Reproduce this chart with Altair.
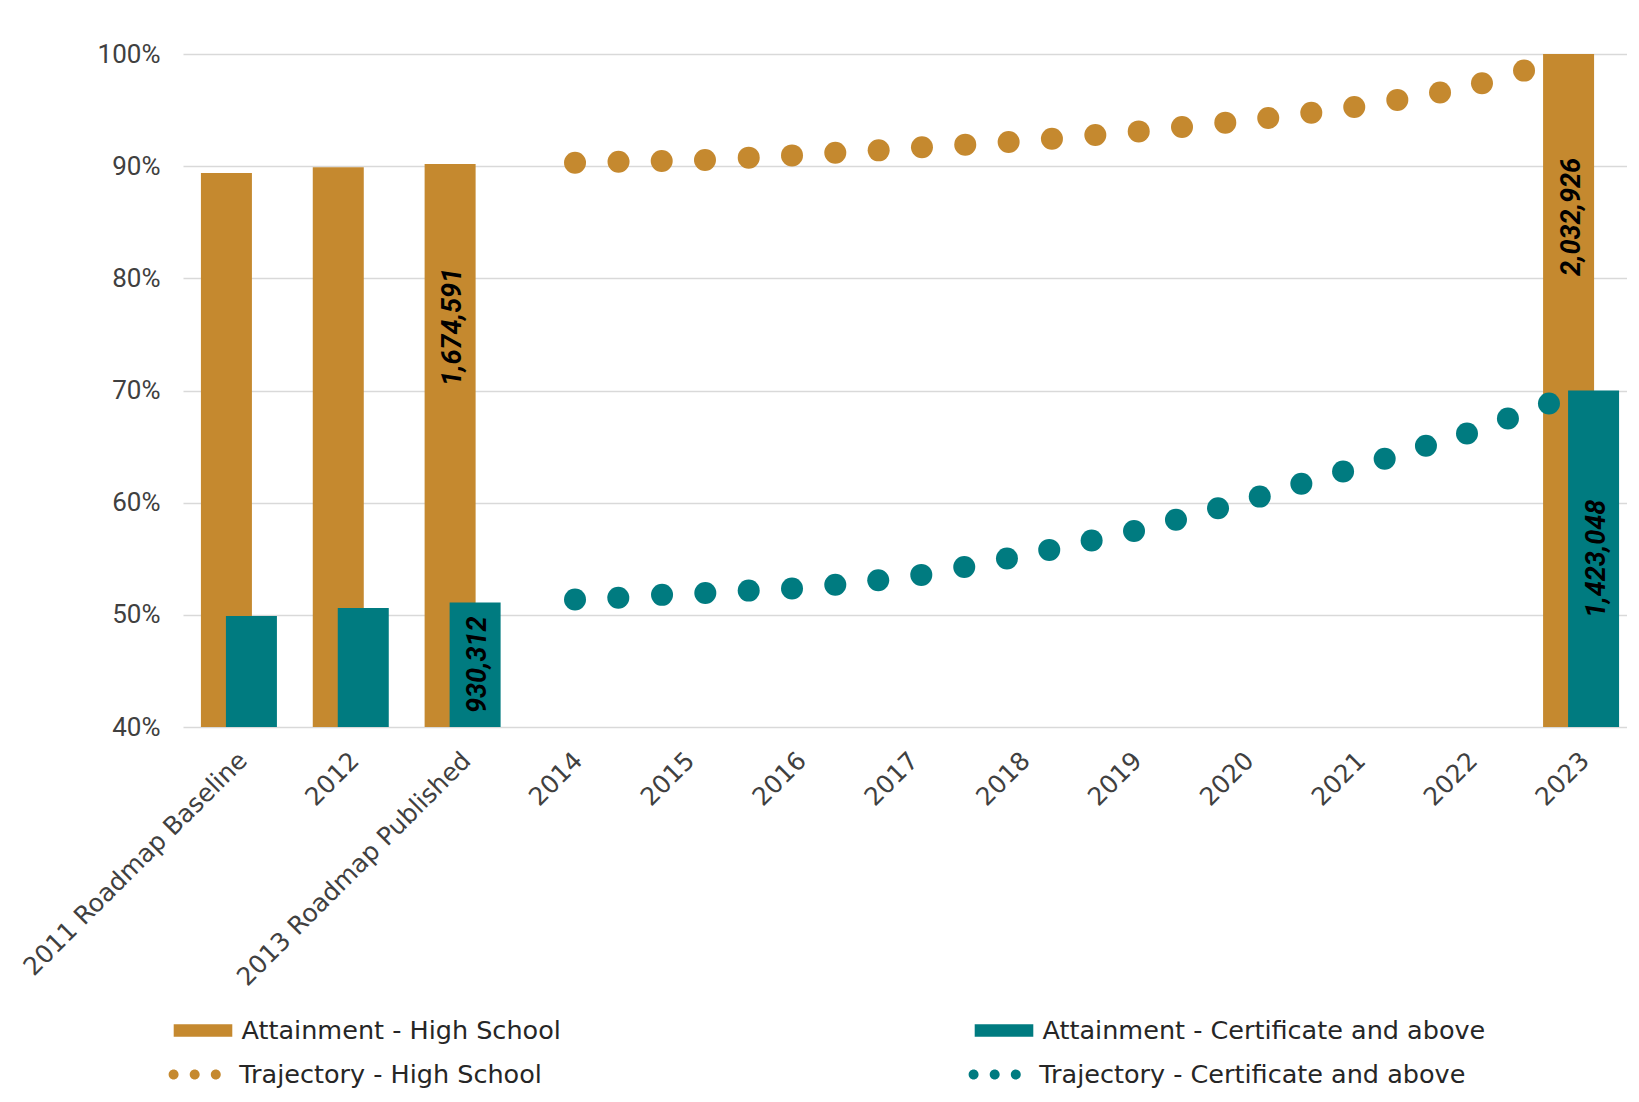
import altair as alt
import pandas as pd

# ---------------- data ----------------
categories = ["2011 Roadmap Baseline", "2012", "2013 Roadmap Published", "2014", "2015",
              "2016", "2017", "2018", "2019", "2020", "2021", "2022", "2023"]

bar_categories = ["2011 Roadmap Baseline", "2012", "2013 Roadmap Published", "2023"]
hs_attainment = [0.894, 0.899, 0.902, 1.000]
cert_attainment = [0.499, 0.506, 0.511, 0.700]
hs_counts = [None, None, 1674591, 2032926]
cert_counts = [None, None, 930312, 1423048]

# trajectory dots: position in category units (0 = first category centre), share
traj_hs_pos = [3.005, 3.394, 3.780, 4.167, 4.558, 4.945, 5.332, 5.720, 6.107, 6.494, 6.882,
               7.269, 7.657, 8.045, 8.432, 8.819, 9.203, 9.588, 9.972, 10.357, 10.739,
               11.114, 11.490]
traj_hs_val = [0.9031, 0.9040, 0.9046, 0.9055, 0.9076, 0.9096, 0.9120, 0.9141, 0.9168,
               0.9192, 0.9216, 0.9245, 0.9278, 0.9310, 0.9350, 0.9388, 0.9430, 0.9477,
               0.9528, 0.9591, 0.9656, 0.9739, 0.9852]
traj_cert_pos = [3.005, 3.392, 3.783, 4.170, 4.558, 4.945, 5.332, 5.716, 6.101, 6.485,
                 6.867, 7.245, 7.624, 8.003, 8.378, 8.754, 9.127, 9.499, 9.872, 10.244,
                 10.613, 10.980, 11.346, 11.713]
traj_cert_val = [0.5136, 0.5153, 0.5178, 0.5195, 0.5216, 0.5234, 0.5269, 0.5309, 0.5356,
                 0.5427, 0.5503, 0.5579, 0.5662, 0.5748, 0.5847, 0.5951, 0.6054, 0.6168,
                 0.6277, 0.6391, 0.6507, 0.6616, 0.6750, 0.6884]

series_names = ["Attainment - High School", "Attainment - Certificate and above"]
traj_names = ["Trajectory - High School", "Trajectory - Certificate and above"]
colors = ["#C5892F", "#007B80"]
y_domain = [0.4, 1.0]
y_ticks = [0.4, 0.5, 0.6, 0.7, 0.8, 0.9, 1.0]

# ---------------- tables ----------------
rows = []
for c, v, n in zip(bar_categories, hs_attainment, hs_counts):
    rows.append({"category": c, "series": series_names[0], "value": v, "count": n})
for c, v, n in zip(bar_categories, cert_attainment, cert_counts):
    rows.append({"category": c, "series": series_names[1], "value": v, "count": n})
bars_df = pd.DataFrame(rows)

dots_df = pd.concat([
    pd.DataFrame({"traj": traj_names[0], "pos": traj_hs_pos, "value": traj_hs_val}),
    pd.DataFrame({"traj": traj_names[1], "pos": traj_cert_pos, "value": traj_cert_val}),
], ignore_index=True)

# ---------------- styling ----------------
GRID = "#D9D9D9"
AXIS_TXT = "#404040"
BAR_W = 51
SHIFT = 12.5
PLOT_W = 1444          # svg width kept inside the window
RANGE_W = 1454         # category scale runs to the right edge (clipped by the svg)

x_axis = alt.Axis(title=None, labelAngle=315, labelAlign="right", labelBaseline="middle",
                  labelPadding=29, labelOffset=4, labelFont="DejaVu Sans", labelFontSize=25,
                  labelColor=AXIS_TXT, ticks=False, domain=False, grid=False,
                  labelLimit=500, labelOverlap=False, labelBound=False)
x_band = alt.X("category:N", sort=categories, title=None, axis=x_axis,
               scale=alt.Scale(domain=categories, paddingInner=0, paddingOuter=0,
                               rangeMax=RANGE_W))

y_axis = alt.Axis(title=None, values=y_ticks, format=".0%", labelFont="Roboto",
                  labelFontSize=26, labelColor=AXIS_TXT, labelPadding=23, ticks=False,
                  domain=False, grid=True, gridColor=GRID, gridWidth=1.5)
y_scale = alt.Scale(domain=y_domain, clamp=True, nice=False, zero=False)


def y_enc(field):
    return alt.Y(field, scale=y_scale, axis=y_axis, title=None)


legend_bars = alt.Legend(
    title=None, orient="none", legendX=-9.5, legendY=947, direction="horizontal",
    columns=2, columnPadding=413, symbolType="M-1,-0.21L1,-0.21L1,0.21L-1,0.21Z",
    symbolSize=3434, symbolStrokeWidth=0, labelFont="DejaVu Sans", labelFontSize=25.5,
    labelColor="#262626", labelOffset=9, labelLimit=800)

r = 0.17
dot_path = "".join(
    f"M{cx - r:.3f},0A{r},{r},0,1,0,{cx + r:.3f},0A{r},{r},0,1,0,{cx - r:.3f},0Z"
    for cx in (-0.72, 0.0, 0.72))
legend_dots = alt.Legend(
    title=None, orient="none", legendX=-17.8, legendY=991, direction="horizontal",
    columns=2, columnPadding=423, symbolType=dot_path, symbolSize=3434,
    symbolStrokeWidth=0, labelFont="DejaVu Sans", labelFontSize=25.5,
    labelColor="#262626", labelOffset=15, labelLimit=800)

color_bars = alt.Color("series:N", scale=alt.Scale(domain=series_names, range=colors),
                       legend=legend_bars)

base = alt.Chart(bars_df)

hs_bars = base.transform_filter(alt.datum.series == series_names[0]).mark_bar(
    width=BAR_W, xOffset=-SHIFT).encode(x=x_band, y=y_enc("value:Q"), color=color_bars)
cert_bars = base.transform_filter(alt.datum.series == series_names[1]).mark_bar(
    width=BAR_W, xOffset=SHIFT).encode(x=x_band, y=y_enc("value:Q"), color=color_bars)

label_style = dict(angle=270, align="center", baseline="middle", font="Roboto",
                   fontSize=27, fontWeight="bold", fontStyle="italic", color="black", dy=3)

hs_text = base.transform_filter(
    f"datum.series === '{series_names[0]}' && isValid(datum.count)"
).mark_text(dx=-163, xOffset=-SHIFT, **label_style).encode(
    x=x_band, y=y_enc("value:Q"), text=alt.Text("count:Q", format=","))

cert_text = base.transform_filter(
    f"datum.series === '{series_names[1]}' && isValid(datum.count)"
).transform_calculate(
    mid=f"(datum.value + {y_domain[0]}) / 2"
).mark_text(xOffset=SHIFT, **label_style).encode(
    x=x_band, y=y_enc("mid:Q"), text=alt.Text("count:Q", format=","))

bars_layer = alt.layer(hs_bars, cert_bars, hs_text, cert_text)

dots = alt.Chart(dots_df).mark_circle(size=484, opacity=1).encode(
    x=alt.X("pos:Q", axis=None, title=None,
            scale=alt.Scale(domain=[-0.5, len(categories) - 0.5], nice=False, zero=False,
                            rangeMax=RANGE_W)),
    y=y_enc("value:Q"),
    color=alt.Color("traj:N", scale=alt.Scale(domain=traj_names, range=colors),
                    legend=legend_dots),
)

chart = alt.layer(bars_layer, dots).resolve_scale(
    x="independent", color="independent"
).properties(
    width=PLOT_W, height=673,
    padding={"left": 175, "top": 46, "right": 0, "bottom": 374},
    autosize=alt.AutoSizeParams(type="none"),
    background="white",
).configure_view(stroke=None)

chart.save("out.html", embed_options={"renderer": "svg", "actions": False})
